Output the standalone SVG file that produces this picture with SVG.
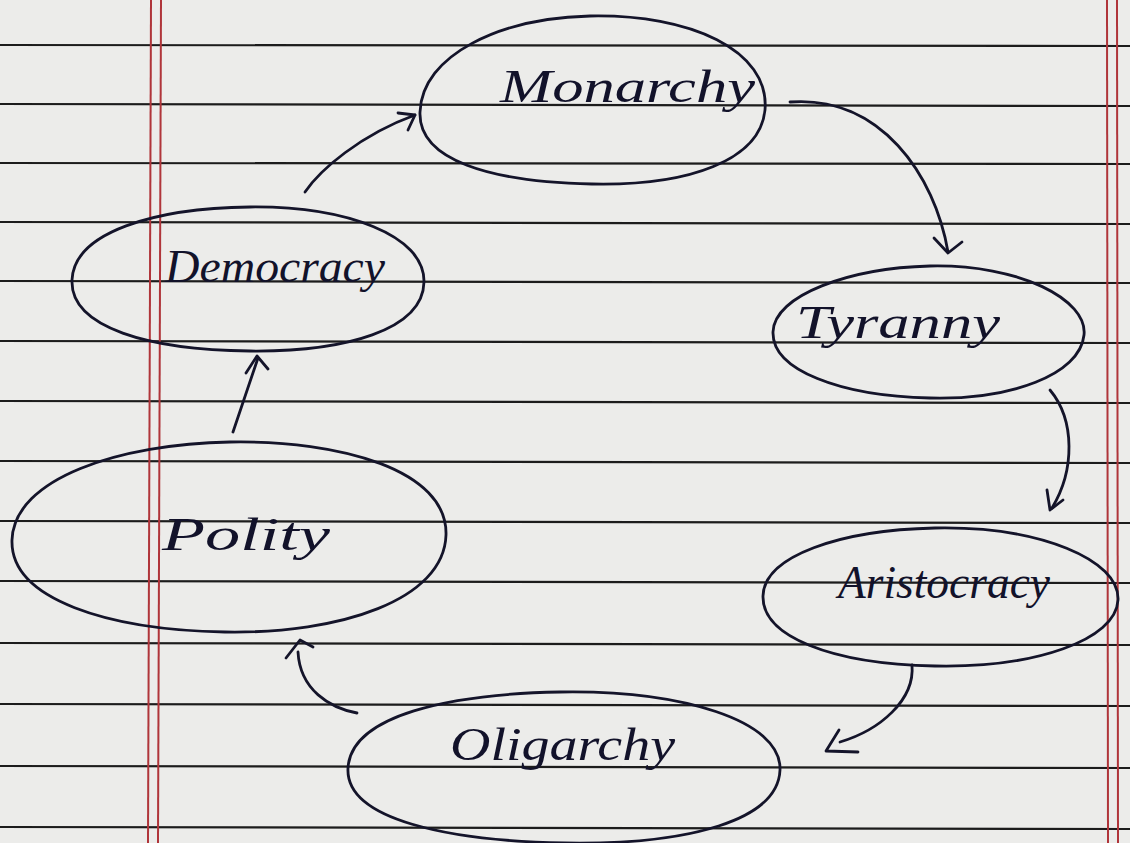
<svg xmlns="http://www.w3.org/2000/svg" width="1130" height="843" viewBox="0 0 1130 843">
<defs>
<style>
.rule{stroke:#1c1c1c;stroke-width:2.2}
.margin{stroke:#b0353a;stroke-width:2}
.node{fill:none;stroke:#14142a;stroke-width:2.8}
.lbl{font-family:"Liberation Serif",serif;font-style:italic;font-size:46px;fill:#12122a}
.conn{fill:none;stroke:#14142a;stroke-width:2.8;stroke-linecap:round;stroke-linejoin:round}
</style>
</defs>
<rect width="1130" height="843" fill="#ececea"/>
<g id="paper">
<line class="rule" x1="0" y1="45" x2="1130" y2="46"/>
<line class="rule" x1="0" y1="104" x2="1130" y2="106"/>
<line class="rule" x1="0" y1="163" x2="1130" y2="164"/>
<line class="rule" x1="0" y1="222" x2="1130" y2="224"/>
<line class="rule" x1="0" y1="281" x2="1130" y2="283"/>
<line class="rule" x1="0" y1="341" x2="1130" y2="343"/>
<line class="rule" x1="0" y1="401" x2="1130" y2="403"/>
<line class="rule" x1="0" y1="461" x2="1130" y2="463"/>
<line class="rule" x1="0" y1="521" x2="1130" y2="523"/>
<line class="rule" x1="0" y1="581" x2="1130" y2="583"/>
<line class="rule" x1="0" y1="643" x2="1130" y2="645"/>
<line class="rule" x1="0" y1="704" x2="1130" y2="706"/>
<line class="rule" x1="0" y1="766" x2="1130" y2="768"/>
<line class="rule" x1="0" y1="827" x2="1130" y2="829"/>
<line class="margin" x1="151" y1="0" x2="148" y2="843"/>
<line class="margin" x1="161" y1="0" x2="158" y2="843"/>
<line class="margin" x1="1107" y1="0" x2="1108" y2="843"/>
<line class="margin" x1="1117" y1="0" x2="1118" y2="843"/>
</g>
<g id="connectors">
<path class="conn" d="M305,192 C320,170 360,135 415,115"/>
<path class="conn" d="M398,113 L415,115 L408,130"/>
<path class="conn" d="M790,102 C880,95 935,175 948,252"/>
<path class="conn" d="M934,238 L948,253 L962,242"/>
<path class="conn" d="M1050,390 C1075,420 1075,470 1052,508"/>
<path class="conn" d="M1047,490 L1050,510 L1063,500"/>
<path class="conn" d="M912,665 C915,700 880,730 840,742"/>
<path class="conn" d="M839,730 L826,751 L858,752"/>
<path class="conn" d="M357,713 C330,708 300,690 298,652"/>
<path class="conn" d="M286,658 L300,640 L313,647"/>
<path class="conn" d="M233,432 L258,358"/>
<path class="conn" d="M246,373 L257,356 L268,369"/>
</g>
<g id="monarchy">
<path class="node" d="M590,16 C690,14 770,50 765,110 C760,160 690,186 592,184 C490,182 418,160 420,112 C422,55 500,18 590,16 Z"/>
<text class="lbl" x="500" y="102" textLength="255" lengthAdjust="spacingAndGlyphs">Monarchy</text>
</g>
<g id="tyranny">
<path class="node" d="M930,266 C1020,264 1088,300 1084,335 C1080,375 1010,400 930,398 C840,396 772,370 773,332 C774,295 850,268 930,266 Z"/>
<text class="lbl" x="796" y="338" font-size="42" textLength="204" lengthAdjust="spacingAndGlyphs">Tyranny</text>
</g>
<g id="aristocracy">
<path class="node" d="M935,528 C1040,526 1120,560 1118,600 C1116,640 1035,668 935,666 C830,664 762,636 763,596 C764,556 840,530 935,528 Z"/>
<text class="lbl" x="838" y="598" font-size="42" textLength="212" lengthAdjust="spacingAndGlyphs">Aristocracy</text>
</g>
<g id="oligarchy">
<path class="node" d="M560,692 C680,690 782,720 780,770 C778,820 690,845 565,843 C450,841 345,820 348,768 C351,715 450,694 560,692 Z"/>
<text class="lbl" x="450" y="760" font-size="50" textLength="225" lengthAdjust="spacingAndGlyphs">Oligarchy</text>
</g>
<g id="polity">
<path class="node" d="M230,442 C340,440 448,470 446,535 C444,600 340,634 225,632 C110,630 10,600 12,540 C14,478 120,444 230,442 Z"/>
<text class="lbl" x="162" y="550" font-size="48" textLength="168" lengthAdjust="spacingAndGlyphs">Polity</text>
</g>
<g id="democracy">
<path class="node" d="M250,207 C345,206 425,235 424,282 C423,330 345,352 250,351 C150,350 70,328 72,280 C74,232 155,208 250,207 Z"/>
<text class="lbl" x="165" y="282" font-size="42" textLength="220" lengthAdjust="spacingAndGlyphs">Democracy</text>
</g>
</svg>
